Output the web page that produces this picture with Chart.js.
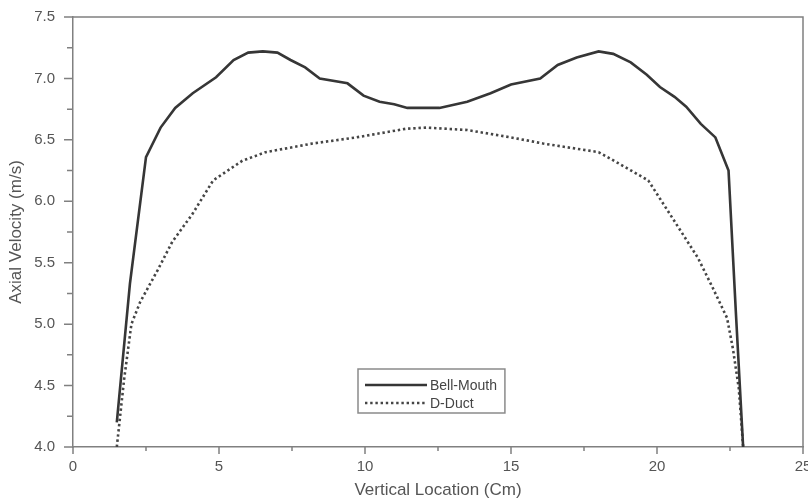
<!DOCTYPE html>
<html>
<head>
<meta charset="utf-8">
<script src="https://cdn.jsdelivr.net/npm/chart.js@4.4.1/dist/chart.umd.min.js"></script>
<style>
    html, body { margin: 0; padding: 0; background: #fff; overflow: hidden; }
    #wrap { width: 808px; height: 502px; }
</style>
</head>
<body>
<div id="wrap"><canvas id="velocity-chart" width="808" height="502"></canvas></div>
<script>
// Axial velocity profiles across the duct
const bellMouthX = [1.5, 1.95, 2.5, 3.0, 3.5, 4.1, 4.9, 5.5, 6.0, 6.5, 7.0, 7.45, 7.95, 8.45, 9.4, 9.95, 10.5, 11.0, 11.45, 12.55, 13.5, 14.3, 15.0, 16.0, 16.6, 17.25, 18.0, 18.5, 19.1, 19.65, 20.1, 20.6, 21.0, 21.5, 22.0, 22.45, 22.7, 22.95];
const bellMouthY = [4.2, 5.33, 6.36, 6.6, 6.76, 6.88, 7.01, 7.15, 7.21, 7.22, 7.21, 7.15, 7.09, 7.0, 6.96, 6.86, 6.81, 6.79, 6.76, 6.76, 6.81, 6.88, 6.95, 7.0, 7.11, 7.17, 7.22, 7.2, 7.13, 7.03, 6.93, 6.85, 6.77, 6.63, 6.52, 6.25, 5.1, 4.0];

const dDuctX = [1.5, 1.75, 2.0, 2.3, 2.9, 3.4, 4.1, 4.8, 5.8, 6.6, 8.2, 9.7, 11.4, 12.1, 13.5, 15.0, 16.1, 18.0, 18.6, 19.7, 20.7, 21.4, 21.9, 22.4, 22.6, 22.8, 22.95];
const dDuctY = [4.0, 4.55, 5.0, 5.18, 5.44, 5.67, 5.9, 6.17, 6.33, 6.4, 6.47, 6.52, 6.59, 6.6, 6.58, 6.52, 6.47, 6.4, 6.32, 6.17, 5.8, 5.54, 5.3, 5.05, 4.8, 4.48, 4.0];

const xTicksMajor = [0, 5, 10, 15, 20, 25];
const yTicksMajor = [4.0, 4.5, 5.0, 5.5, 6.0, 6.5, 7.0, 7.5];

const FONT = '"Liberation Sans", Arial, sans-serif';
const AXIS_COLOR = '#808080';

function toPoints(xs, ys) {
    return xs.map((x, i) => ({ x: x, y: ys[i] }));
}

function isMajor(value, list) {
    return list.some(v => Math.abs(v - value) < 1e-6);
}

// outward tick marks, long for labelled ticks and short in between
const tickMarks = {
    id: 'tickMarks',
    afterDraw(chart) {
        const ctx = chart.ctx;
        const area = chart.chartArea;
        const xs = chart.scales.x, ys = chart.scales.y;
        ctx.save();
        ctx.strokeStyle = AXIS_COLOR;
        ctx.lineWidth = 1.5;
        ctx.beginPath();
        xs.ticks.forEach(t => {
            const px = xs.getPixelForValue(t.value);
            const len = isMajor(t.value, xTicksMajor) ? 7 : 4;
            ctx.moveTo(px, area.bottom);
            ctx.lineTo(px, area.bottom + len);
        });
        ys.ticks.forEach(t => {
            const py = ys.getPixelForValue(t.value);
            const len = isMajor(t.value, yTicksMajor) ? 9 : 6;
            ctx.moveTo(area.left, py);
            ctx.lineTo(area.left - len, py);
        });
        ctx.stroke();

        // top and right edges of the frame
        ctx.beginPath();
        ctx.moveTo(area.left, area.top);
        ctx.lineTo(area.right, area.top);
        ctx.lineTo(area.right, area.bottom);
        ctx.stroke();
        ctx.restore();
    }
};

// boxed legend inside the plot
const boxLegend = {
    id: 'boxLegend',
    afterDraw(chart) {
        const ctx = chart.ctx;
        const sets = chart.data.datasets;
        const left = 358, top = 369;
        const rowH = 18;
        const sampleW = 62;
        ctx.save();
        ctx.font = '14px ' + FONT;
        const textW = Math.max(...sets.map(d => ctx.measureText(d.label).width));
        const boxW = 7 + sampleW + 3 + textW + 8;
        const boxH = 44;
        ctx.fillStyle = '#fff';
        ctx.fillRect(left, top, boxW, boxH);
        ctx.strokeStyle = '#8a8a8a';
        ctx.lineWidth = 1.5;
        ctx.strokeRect(left, top, boxW, boxH);

        sets.forEach((d, i) => {
            const y = top + 16 + i * rowH;
            ctx.beginPath();
            ctx.strokeStyle = d.borderColor;
            ctx.lineWidth = d.borderWidth;
            ctx.setLineDash(d.borderDash || []);
            ctx.moveTo(left + 7, y);
            ctx.lineTo(left + 7 + sampleW, y);
            ctx.stroke();
            ctx.setLineDash([]);
            ctx.fillStyle = '#444';
            ctx.textBaseline = 'middle';
            ctx.textAlign = 'left';
            ctx.fillText(d.label, left + 7 + sampleW + 3, y + 1);
        });
        ctx.restore();
    }
};

new Chart(document.getElementById('velocity-chart'), {
    type: 'scatter',
    data: {
        datasets: [{
            label: 'Bell-Mouth',
            data: toPoints(bellMouthX, bellMouthY),
            showLine: true,
            borderColor: '#363636',
            borderWidth: 2.6,
            pointRadius: 0,
            tension: 0
        }, {
            label: 'D-Duct',
            data: toPoints(dDuctX, dDuctY),
            showLine: true,
            borderColor: '#454545',
            borderWidth: 2.6,
            borderDash: [2.4, 2.8],
            pointRadius: 0,
            tension: 0
        }]
    },
    options: {
        responsive: false,
        animation: false,
        layout: { padding: { left: 0, top: 17, right: 5, bottom: 0 } },
        plugins: {
            legend: { display: false },
            tooltip: { enabled: false }
        },
        scales: {
            x: {
                type: 'linear',
                min: 0,
                max: 25,
                grid: { drawOnChartArea: false, drawTicks: false },
                border: { display: true, color: AXIS_COLOR, width: 1.5 },
                ticks: {
                    stepSize: 2.5,
                    padding: 11,
                    maxRotation: 0,
                    autoSkip: false,
                    color: '#555',
                    font: { family: FONT, size: 15 },
                    callback: v => isMajor(v, xTicksMajor) ? String(v) : ''
                },
                title: {
                    display: true,
                    text: 'Vertical Location (Cm)',
                    color: '#555',
                    font: { family: FONT, size: 17 },
                    padding: { top: 0, bottom: 1 }
                },
                afterFit(scale) {
                    scale.height = 55;
                    scale.paddingLeft = 0;
                    scale.paddingRight = 0;
                }
            },
            y: {
                type: 'linear',
                min: 4,
                max: 7.5,
                grid: { drawOnChartArea: false, drawTicks: false },
                border: { display: true, color: AXIS_COLOR, width: 1.5 },
                ticks: {
                    stepSize: 0.25,
                    padding: 18,
                    autoSkip: false,
                    color: '#555',
                    font: { family: FONT, size: 15 },
                    callback: v => isMajor(v, yTicksMajor) ? v.toFixed(1) : ''
                },
                title: {
                    display: true,
                    text: 'Axial Velocity (m/s)',
                    color: '#555',
                    font: { family: FONT, size: 17 },
                    padding: { top: 6, bottom: 0 }
                },
                afterFit(scale) {
                    scale.width = 73;
                    scale.paddingTop = 0;
                    scale.paddingBottom = 0;
                }
            }
        }
    },
    plugins: [tickMarks, boxLegend]
});
</script>
</body>
</html>
